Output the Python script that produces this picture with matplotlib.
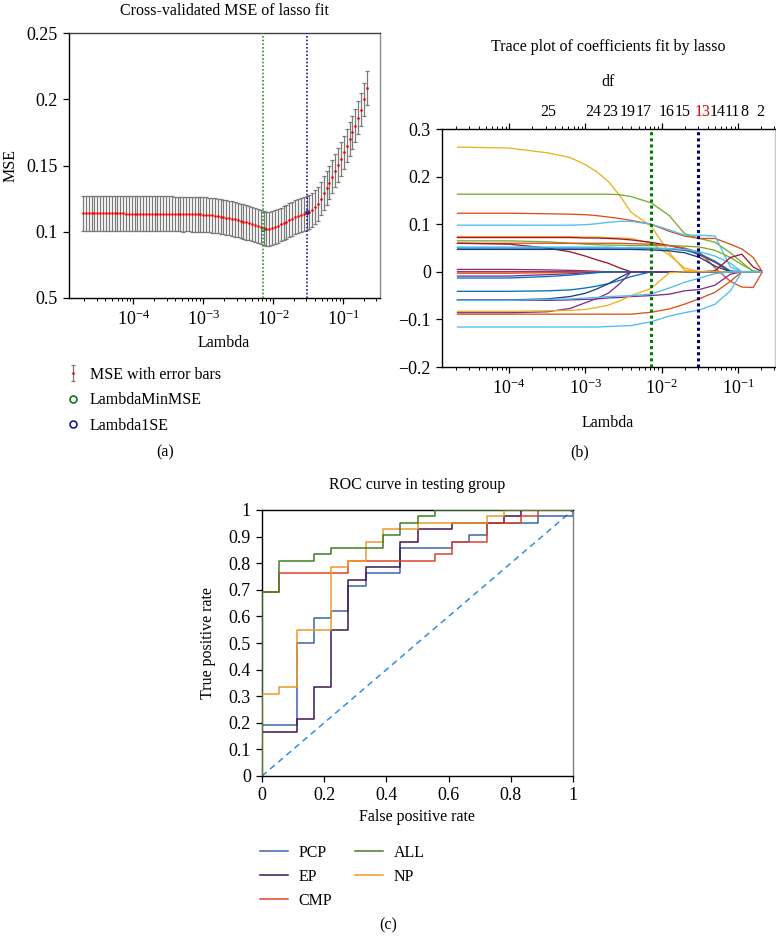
import numpy as np
import matplotlib
matplotlib.use('Agg')
import matplotlib.pyplot as plt
from matplotlib.lines import Line2D
import matplotlib.transforms as mtransforms

plt.rcParams['font.family'] = ['Liberation Serif', 'DejaVu Serif']
plt.rcParams['mathtext.fontset'] = 'stix'
plt.rcParams['axes.unicode_minus'] = True

# ---------------- data: panel (a) cross-validated MSE ----------------
lam_grid = np.logspace(-4.72, -0.66, 100)
mse = [
    .1138, .1138, .1138, .1138, .1138, .1138, .1138, .1138, .1138, .1138,
    .1138, .1138, .1138, .1138, .1138, .1137, .1137, .1137, .1137, .1137,
    .1137, .1137, .1136, .1136, .1136, .1136, .1136, .1135, .1135, .1135,
    .1135, .1135, .1134, .1134, .1134, .1133, .1133, .1133, .1132, .1132,
    .1132, .1131, .1130, .1128, .1126, .1124, .1121, .1118, .1115, .1111,
    .1107, .1103, .1099, .1094, .1089, .1083, .1077, .1071, .1064, .1057,
    .1050, .1042, .1034, .1026, .1020, .1022, .1028, .1036, .1045, .1055,
    .1066, .1077, .1088, .1099, .1110, .1118, .1126, .1133, .1140, .1147,
    .1165, .1185, .1210, .1250, .1290, .1330, .1370, .1415, .1460, .1505,
    .1550, .1600, .1650, .1700, .1750, .1800, .1860, .1920, .2000, .2085,
]
mse_se = [
    .0132, .0132, .0132, .0132, .0132, .0132, .0132, .0132, .0132, .0132,
    .0132, .0132, .0132, .0132, .0132, .0132, .0132, .0132, .0132, .0132,
    .0132, .0132, .0132, .0132, .0132, .0132, .0132, .0132, .0132, .0132,
    .0132, .0132, .0132, .0132, .0132, .0132, .0131, .0131, .0131, .0131,
    .0131, .0131, .0131, .0131, .0131, .0131, .0131, .0130, .0130, .0130,
    .0130, .0130, .0130, .0130, .0130, .0130, .0130, .0130, .0129, .0129,
    .0129, .0129, .0129, .0129, .0129, .0129, .0129, .0129, .0128, .0128,
    .0128, .0128, .0128, .0128, .0128, .0128, .0128, .0127, .0127, .0127,
    .0127, .0127, .0127, .0127, .0127, .0127, .0126, .0126, .0126, .0126,
    .0126, .0126, .0126, .0126, .0125, .0125, .0125, .0125, .0125, .0125,
]
lambda_min_a = 10 ** -2.14
lambda_1se_a = 10 ** -1.51
lambda_min_b = 10 ** -2.14
lambda_1se_b = 10 ** -1.53
mse_at_min = 0.1020
mse_at_1se = 0.1147
a_yticks = [0.05, 0.1, 0.15, 0.2, 0.25]
a_yticklabels = ['0.5', '0.1', '0.15', '0.2', '0.25']
a_legend = ['MSE with error bars', 'LambdaMinMSE', 'Lambda1SE']

# ---------------- data: panel (b) lasso trace ----------------
trace_loglam = [-4.68, -4.0, -3.5, -3.2, -3.0, -2.85, -2.7, -2.55, -2.4, -2.14, -1.9, -1.7, -1.5, -1.3, -1.1, -0.95, -0.8, -0.68]
coef_01 = [.262, .260, .250, .240, .225, .210, .190, .160, .125, .096, .040, .003, 0, 0, 0, 0, 0, 0]
coef_02 = [.163, .163, .163, .163, .163, .163, .163, .162, .158, .145, .118, .080, .070, .062, .040, .020, 0, 0]
coef_03 = [.123, .123, .122, .121, .120, .118, .115, .112, .108, .100, .085, .075, .070, .070, .058, .048, .030, 0]
coef_04 = [.098, .098, .098, .098, .099, .101, .104, .106, .106, .100, .088, .077, .077, .075, .010, 0, 0, 0]
coef_05 = [.074, .074, .074, .074, .073, .073, .072, .071, .070, .060, .035, .008, 0, 0, 0, 0, 0, 0]
coef_06 = [.072, .072, .072, .072, .071, .071, .070, .069, .067, .062, .055, .048, .035, .020, 0, 0, 0, 0]
coef_07 = [.065, .065, .063, .060, .058, .057, .056, .056, .055, .055, .055, .054, .052, .045, .030, .015, .002, 0]
coef_08 = [.060, .060, .060, .060, .060, .060, .060, .060, .059, .058, .055, .050, .040, .008, -.020, -.032, -.033, 0]
coef_09 = [.060, .058, .050, .042, .033, .025, .018, .008, 0, 0, 0, 0, 0, 0, 0, 0, 0, 0]
coef_10 = [.050, .050, .050, .050, .050, .050, .050, .050, .050, .049, .048, .045, .038, .022, .002, 0, 0, 0]
coef_11 = [.047, .047, .047, .047, .047, .047, .047, .047, .047, .046, .044, .040, .030, .012, 0, 0, 0, 0]
coef_12 = [.052, .052, .052, .052, .052, .052, .052, .051, .051, .050, .049, .047, .042, .033, .018, 0, 0, 0]
coef_13 = [0, 0, 0, 0, 0, 0, 0, 0, 0, 0, 0, 0, 0, .002, .030, .037, .010, 0]
coef_14 = [.005, .005, .004, .003, .002, .001, 0, 0, 0, 0, 0, 0, 0, 0, 0, 0, 0, 0]
coef_15 = [-.003, -.003, -.002, -.001, 0, 0, 0, 0, 0, 0, 0, 0, 0, 0, 0, 0, 0, 0]
coef_16 = [-.009, -.009, -.006, -.004, -.002, -.001, 0, 0, 0, 0, 0, 0, 0, 0, 0, 0, 0, 0]
coef_17 = [-.013, -.013, -.010, -.007, -.004, -.002, 0, 0, 0, 0, 0, 0, 0, 0, 0, 0, 0, 0]
coef_18 = [-.041, -.041, -.040, -.038, -.034, -.030, -.025, -.018, -.010, 0, 0, 0, 0, 0, 0, 0, 0, 0]
coef_19 = [-.059, -.059, -.057, -.052, -.045, -.036, -.025, -.012, 0, 0, 0, 0, 0, 0, 0, 0, 0, 0]
coef_20 = [-.060, -.060, -.060, -.059, -.058, -.057, -.055, -.054, -.052, -.050, -.047, -.040, -.037, -.028, -.005, 0, 0, 0]
coef_21 = [-.086, -.086, -.084, -.077, -.065, -.056, -.045, -.025, 0, 0, 0, 0, 0, 0, 0, 0, 0, 0]
coef_22 = [-.083, -.083, -.082, -.081, -.079, -.075, -.070, -.061, -.050, -.035, -.002, 0, 0, 0, 0, 0, 0, 0]
coef_23 = [-.089, -.089, -.089, -.089, -.089, -.089, -.089, -.089, -.089, -.085, -.078, -.068, -.056, -.043, -.020, 0, 0, 0]
coef_24 = [-.116, -.116, -.116, -.116, -.116, -.116, -.115, -.114, -.113, -.105, -.093, -.086, -.080, -.068, -.040, 0, 0, 0]
coef_25 = [-.060, -.060, -.058, -.057, -.055, -.054, -.052, -.051, -.050, -.047, -.034, -.022, -.013, -.004, 0, 0, 0, 0]
df_labels = ['25', '24', '23', '19', '17', '16', '15', '13', '14', '11', '8', '2']
df_loglam = [-3.49, -2.90, -2.68, -2.45, -2.24, -1.93, -1.72, -1.47, -1.27, -1.07, -0.91, -0.71]
b_yticks = [-0.2, -0.1, 0, 0.1, 0.2, 0.3]
b_yticklabels = ['\u22120.2', '\u22120.1', '0', '0.1', '0.2', '0.3']

# ---------------- data: panel (c) ROC ----------------
n_neg, n_pos = 18, 42
roc_names = ['PCP', 'EP', 'CMP', 'ALL', 'NP']
pcp_fp = [0, 0, 2, 2, 3, 3, 4, 4, 5, 5, 6, 6, 8, 8, 11, 11, 12, 12, 13, 13, 16, 16, 18, 18]
pcp_tp = [0, 8, 8, 21, 21, 25, 25, 26, 26, 30, 30, 32, 32, 36, 36, 37, 37, 38, 38, 40, 40, 41, 41, 42]
ep_fp = [0, 0, 2, 2, 3, 3, 4, 4, 5, 5, 6, 6, 8, 8, 9, 9, 11, 11, 14, 14, 15, 15, 18]
ep_tp = [0, 7, 7, 9, 9, 14, 14, 23, 23, 31, 31, 33, 33, 37, 37, 39, 39, 40, 40, 41, 41, 42, 42]
cmp_fp = [0, 0, 1, 1, 5, 5, 10, 10, 11, 11, 13, 13, 15, 15, 16, 16, 18]
cmp_tp = [0, 29, 29, 32, 32, 34, 34, 35, 35, 37, 37, 40, 40, 41, 41, 42, 42]
all_fp = [0, 0, 1, 1, 3, 3, 4, 4, 7, 7, 8, 8, 9, 9, 10, 10, 18]
all_tp = [0, 29, 29, 34, 34, 35, 35, 36, 36, 38, 38, 40, 40, 41, 41, 42, 42]
np_fp = [0, 0, 1, 1, 2, 2, 4, 4, 5, 5, 6, 6, 7, 7, 9, 9, 13, 13, 14, 14, 18]
np_tp = [0, 13, 13, 14, 14, 23, 23, 33, 33, 34, 34, 37, 37, 39, 39, 40, 40, 41, 41, 42, 42]
c_ticks = [0, 0.1, 0.2, 0.3, 0.4, 0.5, 0.6, 0.7, 0.8, 0.9, 1]
c_yticklabels = ['0', '0.1', '0.2', '0.3', '0.4', '0.5', '0.6', '0.7', '0.8', '0.9', '1']
c_xticks = [0, 0.2, 0.4, 0.6, 0.8, 1]
c_xticklabels = ['0', '0.2', '0.4', '0.6', '0.8', '1']

# ---------------- styles ----------------
W, H = 776, 939
FS = 11.5
TFS = 13
DFS = 11.5
MB, MO, MY, MP, MG, MC, MM = '#0072BD', '#D95319', '#EDB120', '#7E2F8E', '#77AC30', '#4DBEEE', '#A2142F'
NAVY = '#1F3C88'
trace_series = [
    (coef_01, MY), (coef_02, MG), (coef_03, MO), (coef_04, MC), (coef_05, MY),
    (coef_06, MM), (coef_07, MG), (coef_08, MO), (coef_09, MM), (coef_10, MB),
    (coef_11, NAVY), (coef_12, MC), (coef_13, MM), (coef_14, MP), (coef_15, MO),
    (coef_16, MP), (coef_17, MB), (coef_18, MB), (coef_19, NAVY), (coef_20, MP),
    (coef_21, MP), (coef_22, MY), (coef_23, MO), (coef_24, MC), (coef_25, MC),
]
roc_series = [
    (pcp_fp, pcp_tp, '#3B64AE', 2),
    (ep_fp, ep_tp, '#3E1550', 2),
    (cmp_fp, cmp_tp, '#E2432A', 2),
    (all_fp, all_tp, '#3F7D20', 4),
    (np_fp, np_tp, '#F0982A', 3),
]


def px_axes(l, t, r, b):
    return [l / W, 1 - b / H, (r - l) / W, (b - t) / H]


fig = plt.figure(figsize=(W / 100, H / 100), dpi=100)
fig.patch.set_facecolor('white')

# ================= panel (a) =================
axA = fig.add_axes(px_axes(69, 33, 380, 298))
eb = axA.errorbar(lam_grid, mse, yerr=mse_se, fmt='.', color='#FF0000', ms=1.8,
                  ecolor='#7a7a7a', elinewidth=0.9, capsize=1.7, capthick=0.9, zorder=3)
axA.axvline(lambda_min_a, color='#1E9A1E', ls=(0, (1, 1.2)), lw=1.2, zorder=4)
axA.axvline(lambda_1se_a, color='#1A1A9A', ls=(0, (1, 1.2)), lw=1.2, zorder=4)
axA.plot([lambda_min_a], [mse_at_min], 'o', mfc='none', mec='#1E7A1E', ms=2.5, mew=0.8, zorder=5)
axA.plot([lambda_1se_a], [mse_at_1se], 'o', mfc='none', mec='#1A1A8A', ms=2.5, mew=0.8, zorder=5)
axA.set_xscale('log')
axA.set_xlim(10 ** -4.92, 10 ** -0.47)
axA.set_ylim(0.05, 0.25)
axA.set_yticks(a_yticks)
axA.set_yticklabels(a_yticklabels)
axA.tick_params(which='both', direction='out', labelsize=TFS, top=False, right=False)
axA.tick_params(which='major', length=4.5, width=0.9)
axA.tick_params(which='minor', length=2.5, width=0.7)
axA.spines['right'].set_color('#8c8c8c')
axA.spines['top'].set_color('#404040')
for s in axA.spines.values():
    s.set_linewidth(1.0)

fig.text(224 / W, 1 - 11 / H, 'Cross-validated MSE of lasso fit', ha='center', va='center', fontsize=FS)
fig.text(11 / W, 1 - 165 / H, 'MSE', ha='center', va='center', rotation=90, fontsize=FS)
fig.text(224 / W, 1 - 343 / H, 'Lambda', ha='center', va='center', fontsize=FS)

h_min = Line2D([], [], ls='none', marker='o', mfc='none', mec='#1E6B1E', ms=5, mew=1.2)
h_1se = Line2D([], [], ls='none', marker='o', mfc='none', mec='#1A1A8C', ms=5, mew=1.2)
legA = axA.legend([eb, h_min, h_1se], a_legend, loc='upper left',
                  bbox_to_anchor=(66 / W, 1 - 367 / H), bbox_transform=fig.transFigure,
                  frameon=False, fontsize=FS, handlelength=0.9, handletextpad=0.6,
                  labelspacing=0.58, borderpad=0, borderaxespad=0)

fig.text(165 / W, 1 - 452 / H, '(a)', ha='center', va='center', fontsize=FS)

# ================= panel (b) =================
axB = fig.add_axes(px_axes(442, 129, 775, 367))
lam_trace = [10 ** v for v in trace_loglam]
for vals, col in trace_series:
    axB.plot(lam_trace, vals, color=col, lw=0.95, solid_capstyle='round', solid_joinstyle='round')
axB.axvline(lambda_min_b, color='#007A00', ls=(0, (1, 1)), lw=2.2, zorder=5)
axB.axvline(lambda_1se_b, color='#00007A', ls=(0, (1, 1)), lw=2.2, zorder=5)
axB.set_xscale('log')
axB.set_xlim(10 ** -4.88, 10 ** -0.515)
axB.set_ylim(-0.2, 0.3)
axB.set_yticks(b_yticks)
axB.set_yticklabels(b_yticklabels)
axB.tick_params(which='both', direction='out', labelsize=TFS, top=True, right=False, labeltop=False)
axB.tick_params(which='major', length=4.5, width=0.9)
axB.tick_params(which='minor', length=2.5, width=0.7)
axB.spines['right'].set_color('#c8c8c8')
for s in axB.spines.values():
    s.set_linewidth(1.0)

fig.text(608 / W, 1 - 47 / H, 'Trace plot of coefficients fit by lasso', ha='center', va='center', fontsize=FS)
fig.text(608 / W, 1 - 82 / H, 'df', ha='center', va='center', fontsize=FS)
trans_df = mtransforms.blended_transform_factory(axB.transData, fig.transFigure)
for lab, lx in zip(df_labels, df_loglam):
    axB.text(10 ** lx, 1 - 112 / H, lab, transform=trans_df, ha='center', va='center',
             fontsize=DFS, color='#E00000' if lab == '13' else 'black', clip_on=False)
fig.text(608 / W, 1 - 423 / H, 'Lambda', ha='center', va='center', fontsize=FS)
fig.text(580 / W, 1 - 452 / H, '(b)', ha='center', va='center', fontsize=FS)

# ================= panel (c) =================
axC = fig.add_axes(px_axes(262, 510, 573, 776))
for (fp, tp, col, z), name in zip(roc_series, roc_names):
    axC.plot(np.array(fp) / n_neg, np.array(tp) / n_pos, color=col, lw=1.1, label=name, zorder=z)
axC.plot([0, 1], [0, 1], color='#2E8FE6', ls=(0, (4, 3)), lw=1.1, zorder=1.5)
axC.set_xlim(0, 1)
axC.set_ylim(0, 1)
axC.set_xticks(c_xticks)
axC.set_xticklabels(c_xticklabels)
axC.set_yticks(c_ticks)
axC.set_yticklabels(c_yticklabels)
axC.tick_params(which='both', direction='out', labelsize=TFS, length=4.5, width=0.9)
axC.spines['right'].set_color('#808080')
for s in axC.spines.values():
    s.set_linewidth(1.0)

fig.text(417 / W, 1 - 485 / H, 'ROC curve in testing group', ha='center', va='center', fontsize=FS)
fig.text(417 / W, 1 - 817 / H, 'False positive rate', ha='center', va='center', fontsize=FS)
fig.text(208 / W, 1 - 643 / H, 'True positive rate', ha='center', va='center', rotation=90, fontsize=FS)

legC = axC.legend(loc='upper left', bbox_to_anchor=(260 / W, 1 - 845 / H), bbox_transform=fig.transFigure,
                  ncol=2, frameon=False, fontsize=FS, handlelength=1.75, handletextpad=0.65,
                  labelspacing=0.5, columnspacing=1.45, borderpad=0, borderaxespad=0)

fig.text(388 / W, 1 - 925 / H, '(c)', ha='center', va='center', fontsize=FS)

fig.savefig('out.png', dpi=100, facecolor='white')
